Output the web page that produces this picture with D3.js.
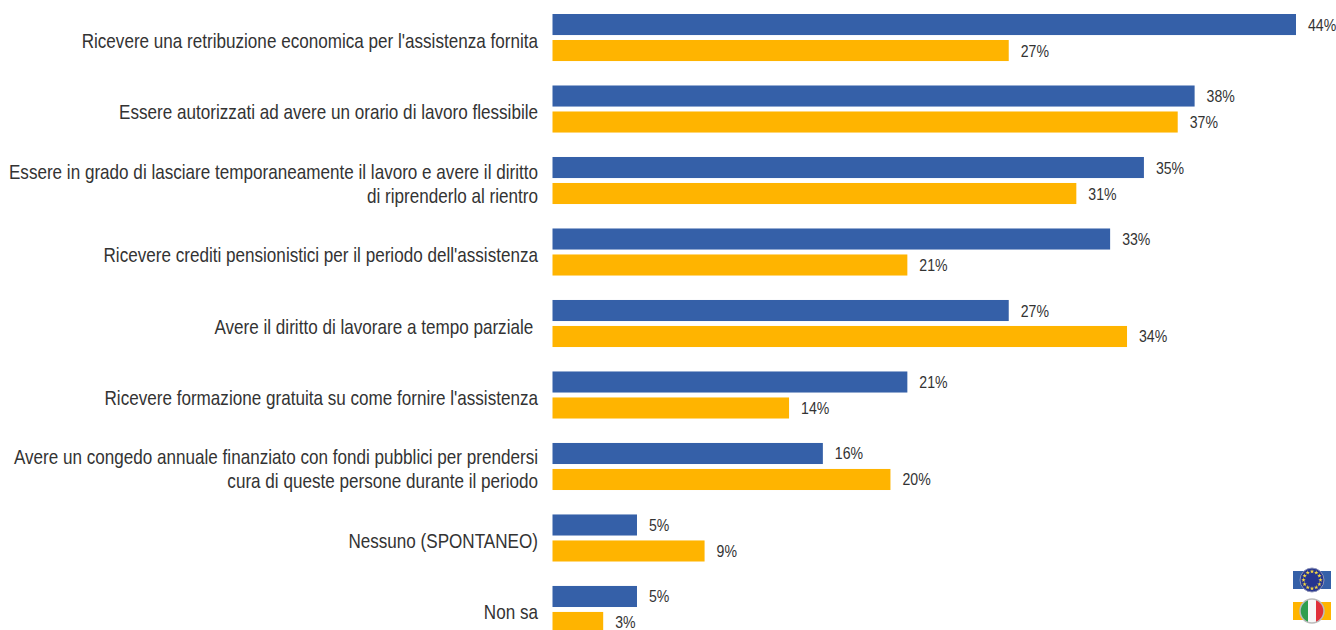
<!DOCTYPE html>
<html>
<head>
<meta charset="utf-8">
<script src="https://cdn.jsdelivr.net/npm/d3@7"></script>
<style>
    html, body { margin: 0; padding: 0; background: #fff; overflow: hidden; }
    text { font-family: "Liberation Sans", sans-serif; fill: #333; }
</style>
</head>
<body>
<div id="chart"></div>
<script>
const categories = [
    ["Ricevere una retribuzione economica per l'assistenza fornita"],
    ["Essere autorizzati ad avere un orario di lavoro flessibile"],
    ["Essere in grado di lasciare temporaneamente il lavoro e avere il diritto", "di riprenderlo al rientro"],
    ["Ricevere crediti pensionistici per il periodo dell'assistenza"],
    ["Avere il diritto di lavorare a tempo parziale "],
    ["Ricevere formazione gratuita su come fornire l'assistenza"],
    ["Avere un congedo annuale finanziato con fondi pubblici per prendersi", "cura di queste persone durante il periodo"],
    ["Nessuno (SPONTANEO)"],
    ["Non sa"]
];
const seriesNames = ["EU", "IT"];
const euValues = [44, 38, 35, 33, 27, 21, 16, 5, 5];
const itValues = [27, 37, 31, 21, 34, 14, 20, 9, 3];
const colors = { EU: "#3560a8", IT: "#ffb400" };

const width = 1336, height = 630;
const squeeze = 0.855; // the source text is condensed, no narrow font installed here

const svg = d3.select("#chart").append("svg")
    .attr("width", width)
    .attr("height", height)
    .style("display", "block");

const x = d3.scaleLinear().domain([0, 44]).range([552.5, 1296]);

const y = d3.scaleBand()
    .domain(d3.range(categories.length))
    .range([14, 633])
    .paddingInner(0.342);

const inner = d3.scaleBand()
    .domain(seriesNames)
    .range([0, y.bandwidth()])
    .paddingInner(0.19);

const rows = categories.map((lines, i) => ({
    lines, i,
    values: [{ s: "EU", v: euValues[i] }, { s: "IT", v: itValues[i] }]
}));

const group = svg.selectAll("g.row")
    .data(rows)
    .enter().append("g")
    .attr("class", "row")
    .attr("transform", d => `translate(0,${y(d.i)})`);

group.selectAll("rect")
    .data(d => d.values)
    .enter().append("rect")
    .attr("x", x(0))
    .attr("y", d => inner(d.s))
    .attr("width", d => x(d.v) - x(0))
    .attr("height", inner.bandwidth())
    .attr("fill", d => colors[d.s]);

group.selectAll("text.value")
    .data(d => d.values)
    .enter().append("text")
    .attr("class", "value")
    .attr("transform", d => `translate(${x(d.v) + 12},${inner(d.s) + inner.bandwidth() / 2 + 6}) scale(${squeeze},1)`)
    .style("font-size", "16.5px")
    .text(d => d.v + "%");

// category labels, right aligned against the bars
group.each(function(d) {
    const mid = y.bandwidth() / 2;
    const lineH = 24;
    const top = mid - (d.lines.length - 1) * lineH / 2;
    d3.select(this).selectAll("text.cat")
        .data(d.lines)
        .enter().append("text")
        .attr("class", "cat")
        .attr("transform", (l, j) => `translate(538,${top + j * lineH + 10}) scale(${squeeze},1)`)
        .attr("text-anchor", "end")
        .style("font-size", "20px")
        .style("white-space", "pre")
        .text(l => l);
});

// legend: small bar with a round badge on top
const legend = svg.append("g");

const euKey = legend.append("g").attr("transform", "translate(1312,580)");
euKey.append("rect").attr("x", -19).attr("y", -9).attr("width", 38).attr("height", 18).attr("fill", colors.EU);
euKey.append("circle").attr("r", 12).attr("fill", "#26358f").attr("stroke", "#8d93b8").attr("stroke-width", 1);
euKey.selectAll("path")
    .data(d3.range(12))
    .enter().append("path")
    .attr("d", d3.symbol(d3.symbolStar, 6))
    .attr("fill", "#f5d742")
    .attr("transform", d => {
        const a = d / 12 * 2 * Math.PI;
        return `translate(${8.5 * Math.cos(a)},${8.5 * Math.sin(a)})`;
    });

const itKey = legend.append("g").attr("transform", "translate(1312,611)");
itKey.append("rect").attr("x", -19).attr("y", -9).attr("width", 38).attr("height", 18).attr("fill", colors.IT);
const clip = svg.append("defs").append("clipPath").attr("id", "badge");
clip.append("circle").attr("r", 12);
const stripes = itKey.append("g").attr("clip-path", "url(#badge)");
["#2e9e4f", "#f7f7f7", "#e0303a"].forEach((c, i) => {
    stripes.append("rect").attr("x", -12 + i * 8).attr("y", -12).attr("width", 8).attr("height", 24).attr("fill", c);
});
itKey.append("circle").attr("r", 12).attr("fill", "none").attr("stroke", "#bbb").attr("stroke-width", 1.5);
</script>
</body>
</html>
